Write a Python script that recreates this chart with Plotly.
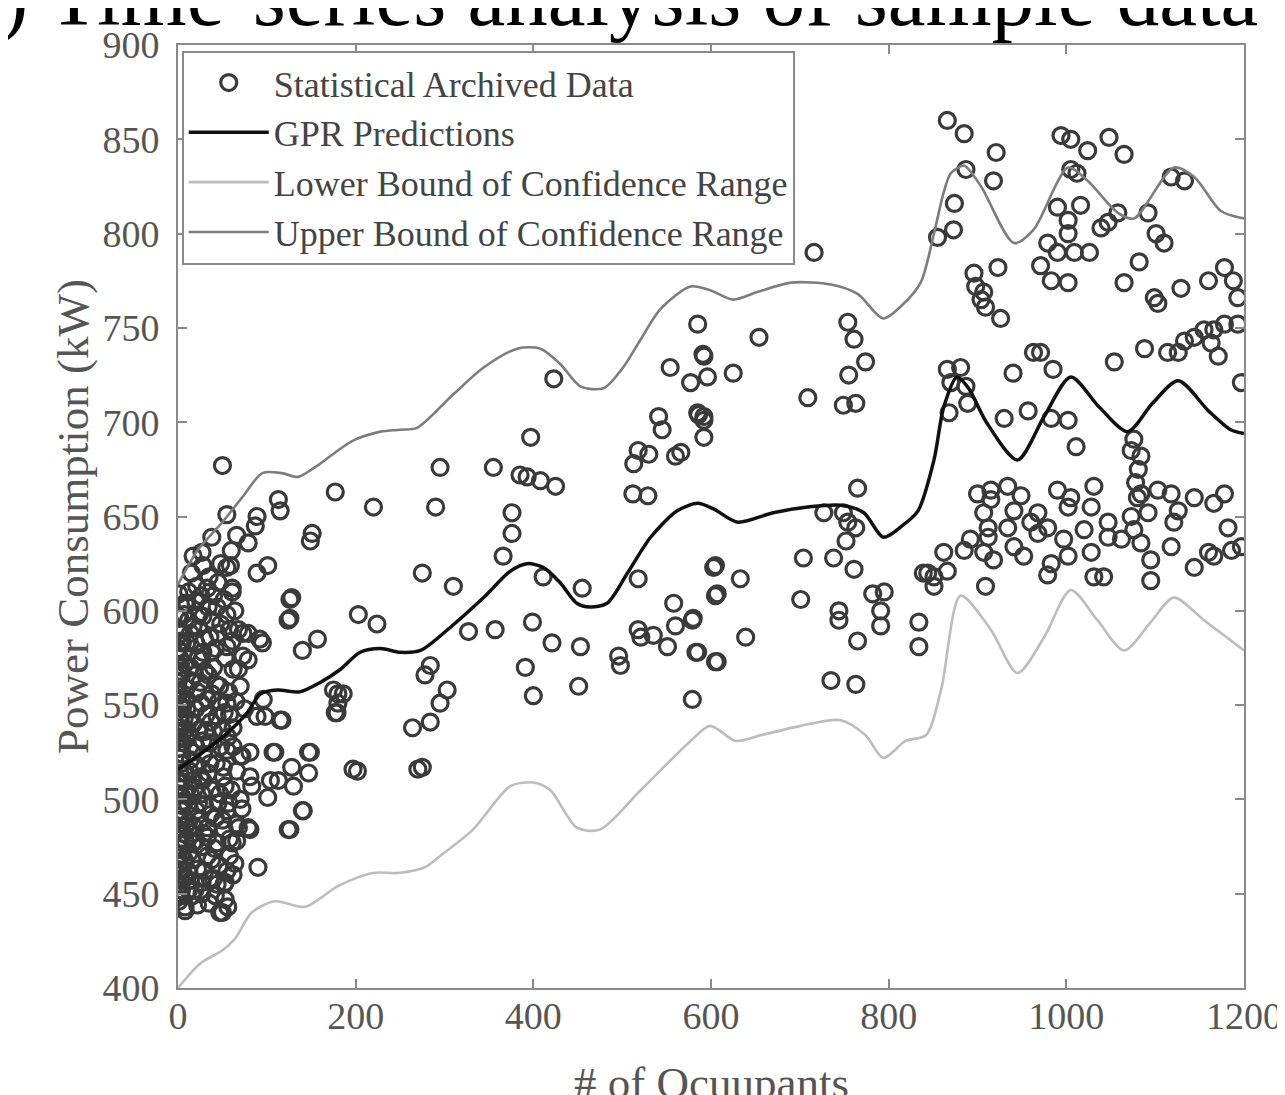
import plotly.graph_objects as go

# ---------------- data ----------------
archived_points = [
    # dense cluster, 0-300 occupants
    (50,677),(113,659),(115,653),(177,663),(220,655),(55,651),(89,650),(87,645),(38,639),(66,640),
    (79,636),(151,641),(149,637),(27,631),(59,624),(101,624),(89,620),(21,613),(61,610),(128,607),
    (124,595),(203,598),(224,593),(157,585),(140,579),(8,604),(0,597),(34,602),(23,591),(79,588),
    (95,583),(61,584),(79,574),(68,569),(180,556),(180,551),(177,546),(117,542),(98,544),
    (28,624),(55,623),(61,612),(126,606),(126,596),(10,604),(44,602),(2,596),(17,592),(55,598),
    (73,588),(92,585),(10,583),(36,586),(55,581),(28,578),(73,576),(62,569),(14,570),(40,570),
    (0,562),(25,562),(47,560),(10,553),(33,553),(55,551),(96,553),(89,544),(115,542),(2,544),
    (17,540),(44,544),(62,538),(2,533),(28,531),(55,526),(70,523),(81,525),(107,525),(149,525),
    (175,558),(186,556),(179,546),(197,516),(14,521),(36,519),(2,514),(25,512),(51,512),(81,512),
    (14,503),(47,503),(70,500),(104,510),(130,507),(141,494),(126,484),(21,494),(55,494),(2,489),
    (33,485),(66,487),(81,484),(17,477),(44,477),(66,478),
    (147,525),(147,514),(109,525),(202,515),(270,516),(128,517),(113,510),(101,501),(140,494),
    (124,484),(90,464),(83,507),(72,523),(79,485),(68,485),(50,440),(8,443),(53,447),(8,537),
    (16,525),(50,537),(8,503),(23,498),(53,507),(0,489),(19,485),(50,489),(8,478),(27,475),
    (61,477),(0,469),(16,468),(38,468),(64,466),(8,459),(27,456),(53,456),(0,450),(16,449),
    (42,449),(56,443),(8,441),
    (3,455),(5,462),(1,474),(6,482),(4,494),(2,506),(7,509),(4,519),(1,527),(6,530),
    (3,541),(5,548),(1,556),(4,566),(2,575),(6,578),(3,588),(12,595),(12,610),(15,620),
    (10,548),(12,535),(13,515),(11,497),(12,488),(13,472),(11,462),(12,452),
    (30,462),(33,470),(40,458),(46,465),(35,445),(44,455),(30,497),(38,505),(42,490),(36,530),
    (40,536),(48,528),(32,545),(38,556),(46,552),(30,568),(42,580),(30,585),(38,595),(48,593),
    (52,606),(45,615),(35,618),(48,625),(60,632),(64,600),(68,590),(70,560),(58,545),(65,552),
    (75,548),(62,528),(66,515),(60,505),(72,495),(58,470),(62,460),(47,440),(52,455),(22,444),
    (1,446),(4,452),(2,460),(7,468),(3,479),(9,486),(5,499),(1,503),(8,514),(5,524),
    (9,532),(2,538),(7,543),(4,553),(9,559),(2,568),(8,572),(5,583),(1,590),(7,598),
    (19,452),(22,463),(20,478),(24,489),(19,506),(22,518),(20,528),(24,537),(20,548),(22,557),
    (19,566),(23,575),(20,583),(24,598),(20,605),(17,629),(26,608),(31,536),(28,510),(33,480),
    (3,449),(1,465),(4,471),(2,484),(3,497),(0,510),(3,522),(0,536),(2,550),(0,558),
    (3,571),(0,580),(4,584),(1,609),(14,457),(15,482),(16,510),(13,542),(15,563),(14,588),
    (27,450),(36,458),(41,474),(29,482),(37,492),(45,498),(27,503),(34,514),(43,519),(29,524),
    (37,541),(26,551),(43,561),(34,566),(27,574),(38,578),(45,588),(28,597),(40,608),(33,612),
    (55,462),(58,479),(52,484),(57,498),(51,517),(56,533),(52,546),(57,557),(53,575),(58,590),
    # 260-620 occupants
    (423,723),(397,692),(295,676),(355,676),(385,672),(393,671),(408,669),(425,666),(290,655),(376,652),
    (376,641),(366,629),(275,620),(310,613),(411,618),(455,612),(518,617),(327,589),(357,590),(399,594),
    (421,583),(453,581),(391,570),(400,555),(451,560),(496,576),(498,571),(518,590),(521,586),(535,587),
    (551,581),(558,604),(560,592),(579,595),(583,578),(605,573),(579,553),(603,623),(605,608),(284,571),
    (278,566),(303,558),(295,551),(284,541),(264,538),(275,517),(554,729),(591,736),(596,724),(577,721),
    (541,703),(545,696),(586,704),(592,703),(592,692),(566,684),(560,682),(518,685),(530,683),(513,678),
    (512,662),(529,661),
    # 580-860 occupants
    (716,790),(585,752),(654,745),(592,735),(625,726),(709,713),(754,753),(761,744),(774,732),(755,725),
    (749,709),(763,710),(585,705),(592,701),(765,665),(727,652),(749,652),(754,647),(763,644),(752,637),
    (738,628),(761,622),(704,628),(701,606),(605,624),(633,617),(607,609),(580,596),(639,586),(585,578),
    (607,573),(782,609),(795,610),(791,600),(791,592),(744,600),(744,595),(765,584),(735,563),(763,561),
    (834,594),(834,581),(844,620),(851,613),(862,631),
    # upper right
    (866,860),(885,853),(921,843),(887,834),(918,828),(874,816),(873,802),(855,798),(994,852),(1005,850),
    (1024,844),(1048,851),(1065,842),(1005,834),(1012,832),(990,814),(1016,815),(1002,807),(1002,800),(979,795),
    (990,790),(1009,790),(1026,790),(971,783),(983,775),(1002,774),(1039,803),(1047,806),(1058,811),(1092,811),
    (1101,800),(1110,795),(1082,785),(1065,774),(1118,830),(1133,828),(1129,771),(1099,766),(1103,763),(1160,775),
    (1178,782),(1188,775),(1193,766),(896,779),(923,782),(898,772),(907,769),(904,765),(909,761),(926,755),
    (940,726),(963,737),(971,737),(985,728),(1054,732),(1088,739),(1114,737),(1126,737),(1133,743),(1144,745),
    (1155,749),(1166,749),(1178,752),(1193,752),(1163,742),(1171,735),(1197,721),(866,728),(881,729),(870,721),
    (887,719),(889,710),(868,705),(930,702),(957,706),(983,702),(1002,701),(1011,687),(1076,691),(1084,682),
    (1081,675),(1073,685),(1078,668),(1080,660),
    # lower right cluster
    (900,662),(915,664),(934,666),(949,661),(915,659),(907,652),(941,653),(968,652),(990,664),(1005,660),
    (1031,666),(1028,655),(1002,655),(912,644),(934,644),(960,647),(979,644),(1020,643),(1047,647),(1073,650),
    (1084,662),(1103,664),(1092,652),(1076,643),(1126,653),(1121,647),(1144,660),(1166,657),(1178,662),(1182,644),
    (1197,634),(1186,632),(1166,629),(1160,631),(1144,623),(1118,634),(1095,627),(1095,616),(1084,636),(1062,638),
    (1047,639),(1028,631),(1042,618),(1031,618),(1002,629),(983,625),(979,619),(997,638),(968,641),(952,629),
    (941,634),(918,627),(907,631),(912,639),(892,638),(885,632),(866,621),(851,618),(839,620),(909,613),
    (1118,662),
]
occupants = [p[0] for p in archived_points]
power_kw = [p[1] for p in archived_points]

gpr_x = [0, 28, 55, 78, 93, 112, 137, 160, 183, 205, 228, 250, 273, 306, 344, 374, 393, 411, 430, 449,
         464, 483, 506, 532, 562, 585, 603, 630, 670, 709, 746, 772, 794, 815, 833, 851, 862, 877, 890, 910,
         945, 975, 1005, 1037, 1069, 1097, 1126, 1160, 1185, 1200]
gpr_y = [516, 525, 535, 546, 556, 558, 557, 562, 569, 578, 580, 578, 579, 591, 607, 621, 625, 623, 615, 604,
         602, 604, 620, 639, 653, 657, 654, 647, 652, 655, 656, 652, 639, 645, 653, 680, 708, 724, 718, 700,
         680, 703, 724, 708, 695, 710, 722, 706, 696, 694]

upper_x = [0, 22, 50, 72, 95, 117, 135, 154, 196, 228, 250, 269, 306, 344, 382, 408, 430, 453, 479, 501,
           521, 543, 577, 599, 625, 652, 690, 735, 765, 794, 815, 836, 851, 862, 870, 885, 904, 941, 963, 1002,
           1024, 1058, 1076, 1121, 1144, 1174, 1200]
upper_y = [614, 632, 647, 660, 673, 673, 671, 676, 690, 695, 696, 697, 713, 729, 739, 739, 731, 719, 718, 729,
           744, 760, 772, 770, 765, 769, 774, 773, 768, 755, 762, 774, 800, 822, 832, 836, 825, 795, 802, 835,
           828, 811, 808, 835, 830, 812, 808]

lower_x = [0, 25, 50, 64, 83, 109, 143, 180, 219, 248, 278, 295, 332, 374, 400, 419, 449, 475, 521, 577,
           599, 628, 656, 701, 746, 774, 794, 819, 842, 859, 881, 915, 945, 975, 1005, 1035, 1065, 1095, 1121, 1155,
           1200]
lower_y = [400, 413, 420, 426, 440, 446, 443, 454, 461, 461, 464, 470, 484, 507, 509, 505, 485, 484, 505, 531,
           539, 531, 534, 539, 542, 534, 522, 531, 534, 558, 608, 590, 567, 586, 611, 595, 579, 594, 607, 595,
           579]

x_ticks = [0, 200, 400, 600, 800, 1000, 1200]
y_ticks = [400, 450, 500, 550, 600, 650, 700, 750, 800, 850, 900]

# ---------------- figure ----------------
SERIF = "Liberation Serif, Times New Roman, serif"
AXIS_GRAY = "#8a8a8a"
TEXT_GRAY = "#555555"

fig = go.Figure()
fig.add_trace(go.Scatter(
    x=occupants, y=power_kw, mode="markers", name="Statistical Archived Data",
    marker=dict(symbol="circle-open", size=16, color="#3a3a3a", line=dict(width=3.2)),
))
fig.add_trace(go.Scatter(
    x=gpr_x, y=gpr_y, mode="lines", name="GPR Predictions",
    line=dict(color="#111111", width=3.5, shape="spline", smoothing=0.8),
))
fig.add_trace(go.Scatter(
    x=lower_x, y=lower_y, mode="lines", name="Lower Bound of Confidence Range",
    line=dict(color="#bdbdbd", width=2.6, shape="spline", smoothing=0.8),
))
fig.add_trace(go.Scatter(
    x=upper_x, y=upper_y, mode="lines", name="Upper Bound of Confidence Range",
    line=dict(color="#7d7d7d", width=2.6, shape="spline", smoothing=0.8),
))

axis_common = dict(
    showgrid=False, zeroline=False, showline=True, linecolor=AXIS_GRAY, linewidth=2,
    mirror="ticks", ticks="inside", ticklen=9, tickwidth=1.5, tickcolor=AXIS_GRAY,
    tickfont=dict(family=SERIF, size=38, color=TEXT_GRAY), automargin=False,
)

# the page body adds an 8 px margin, so the figure is 8 px smaller than the window
fig.update_layout(
    width=1277, height=1087,
    margin=dict(l=170, r=41, t=37, b=107, autoexpand=False),
    paper_bgcolor="white", plot_bgcolor="white",
    showlegend=True,
    legend=dict(
        x=0.0035, y=0.994, xanchor="left", yanchor="top",
        bgcolor="white", bordercolor=AXIS_GRAY, borderwidth=2,
        font=dict(family=SERIF, size=36, color="#444444"),
        itemwidth=80, tracegroupgap=0,
    ),
    xaxis=dict(range=[0, 1200], tickvals=x_ticks, ticklabelstandoff=-7, **axis_common),
    yaxis=dict(range=[400, 900], tickvals=y_ticks, ticklabelstandoff=9,
               title=dict(text="Power Consumption (kW)", font=dict(family=SERIF, size=45, color=TEXT_GRAY), standoff=0),
               **axis_common),
    annotations=[
        dict(text="(a) Time-series analysis of sample data", showarrow=False,
             xref="paper", yref="paper", x=-0.2305, y=1.051, xanchor="left", yanchor="middle",
             font=dict(family=SERIF, size=85, color="black")),
        # x-axis title, placed low so that it is cut by the page edge as in the original
        dict(text="# of Ocuupants", showarrow=False,
             xref="paper", yref="paper", x=0.5, y=-0.072, xanchor="center", yanchor="top",
             font=dict(family=SERIF, size=45, color=TEXT_GRAY)),
    ],
)

fig.write_html("out.html")
